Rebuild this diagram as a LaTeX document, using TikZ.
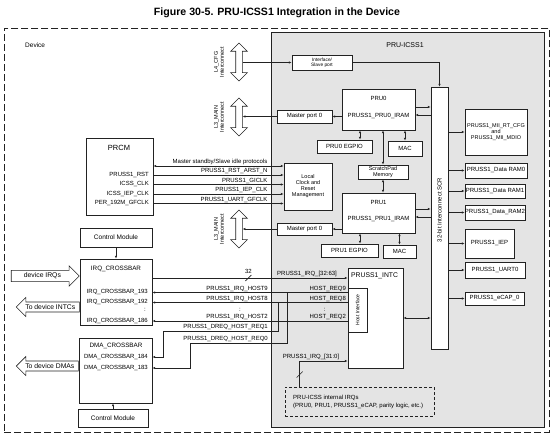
\documentclass[tikz,border=0pt]{standalone}
\usepackage{fontspec}
\setmainfont{Liberation Sans}
\usetikzlibrary{arrows.meta,shapes.arrows,calc}
\definecolor{bggray}{HTML}{E4E4E4}
\definecolor{ln}{HTML}{222222}
\begin{document}
\begin{tikzpicture}[x=1pt,y=-1pt,
  fs/.style={font=\fontsize{6}{6.6}\selectfont},
  box/.style={draw=ln, line width=0.75pt, fill=white, inner sep=0pt, align=center, fs},
  lbl/.style={fs, inner sep=0pt},
  sig/.style={line width=0.6pt, draw=ln},
  arr/.style={sig, -{Latex[length=2.8pt,width=2.4pt]}},
  darr/.style={sig, {Latex[length=2.8pt,width=2.4pt]}-{Latex[length=2.8pt,width=2.4pt]}},
  varrow/.style={draw=ln, fill=white, line width=0.6pt, double arrow, rotate=90,
     minimum height=38pt, inner sep=3pt, double arrow head extend=5pt},
  harrow/.style={draw=ln, fill=white, line width=0.6pt, single arrow,
     font=\fontsize{6.8}{7}\selectfont, inner sep=2.2pt, single arrow head extend=4.5pt},
]
\useasboundingbox (0,0) rectangle (554,438);
\node[font=\bfseries\fontsize{10.6}{12}\selectfont, inner sep=0pt] (title) at (277,13) {Figure 30-5. PRU-ICSS1 Integration in the Device};
\node[draw=ln, line width=0.7pt, dash pattern=on 7pt off 3pt, minimum width=545pt, minimum height=404pt, anchor=north west, inner sep=0pt] (device) at (4,28) {};
\node[lbl, font=\fontsize{6.5}{7}\selectfont, anchor=west] (devlbl) at (25,45) {Device};
\node[draw=ln, fill=bggray, line width=1.1pt, minimum width=273pt, minimum height=395pt, anchor=north west, inner sep=0pt] (pruss) at (271,32) {};
\node[lbl, font=\fontsize{7}{7}\selectfont] (prusslbl) at (405,45) {PRU-ICSS1};

% ---- PRU-ICSS1 internals
\node[box, font=\fontsize{4.8}{5.2}\selectfont, minimum width=60pt, minimum height=15pt] (ifp) at (322,62.5) {Interface/\\Slave port};
\node[box, minimum width=17pt, minimum height=262pt] (scr) at (439.5,218) {};
\node[lbl, rotate=90] (scrlbl) at (439.5,210) {32-bit Interconnect SCR};

\node[box, minimum width=73pt, minimum height=41pt] (pru0) at (378.5,109.5) {};
\node[lbl] (pru0t) at (378.5,98) {PRU0};
\node[lbl] (pru0i) at (378.5,116) {PRUSS1\_PRU0\_IRAM};
\node[box, minimum width=55pt, minimum height=13pt] (mp0) at (304.5,116.5) {Master port 0};
\node[box, minimum width=55pt, minimum height=13pt] (egp0) at (344.5,146.5) {PRU0 EGPIO};
\node[box, minimum width=34pt, minimum height=15pt] (mac0) at (405,148.5) {MAC};
\node[box, font=\fontsize{5.5}{6}\selectfont, minimum width=50pt, minimum height=14pt] (sp) at (383,172) {ScratchPad\\Memory};

\node[box, minimum width=73pt, minimum height=40pt] (pru1) at (378.5,213) {};
\node[lbl] (pru1t) at (378.5,202) {PRU1};
\node[lbl] (pru1i) at (378.5,219) {PRUSS1\_PRU1\_IRAM};
\node[box, minimum width=55pt, minimum height=12pt] (mp1) at (304.5,229) {Master port 0};
\node[box, minimum width=57pt, minimum height=13pt] (egp1) at (349.5,250.5) {PRU1 EGPIO};
\node[box, minimum width=33pt, minimum height=13pt] (mac1) at (399.5,251.5) {MAC};

\node[box, font=\fontsize{5.5}{6}\selectfont, minimum width=48pt, minimum height=47pt] (local) at (308,186.5) {Local\\Clock and\\Reset\\Management};

\node[box, font=\fontsize{5.5}{6}\selectfont, minimum width=62pt, minimum height=46pt] (mii) at (496,132) {PRUSS1\_MII\_RT\_CFG\\and\\PRUSS1\_MII\_MDIO};
\node[box, minimum width=62pt, minimum height=15pt] (ram0) at (496,170.5) {PRUSS1\_Data RAM0};
\node[box, minimum width=60pt, minimum height=14pt] (ram1) at (495,191) {PRUSS1\_Data RAM1};
\node[box, minimum width=60pt, minimum height=15pt] (ram2) at (495,212.5) {PRUSS1\_Data\_RAM2};
\node[box, minimum width=49pt, minimum height=29pt] (iep) at (489.5,243.5) {PRUSS1\_IEP};
\node[box, minimum width=60pt, minimum height=16pt] (uart) at (495,270) {PRUSS1\_UART0};
\node[box, minimum width=59pt, minimum height=13pt] (ecap) at (494.5,298.5) {PRUSS1\_eCAP\_0};

\node[box, minimum width=55pt, minimum height=100pt] (intc) at (375.5,318) {};
\node[lbl, font=\fontsize{6.8}{7}\selectfont, anchor=west] (intclbl) at (351,276) {PRUSS1\_INTC};
\node[box, minimum width=19pt, minimum height=44pt] (hostif) at (357.5,310) {};
\node[lbl, rotate=90, font=\fontsize{5}{5}\selectfont] (hostlbl) at (357.5,310) {Host Interface};

\node[draw=ln, line width=0.7pt, dash pattern=on 3pt off 2pt, minimum width=149pt, minimum height=29pt, inner sep=0pt] (internal) at (359.5,401.5) {};
\node[lbl, align=left, anchor=west, font=\fontsize{6}{8}\selectfont] (intlbl) at (293,401.5) {PRU-ICSS internal IRQs\\(PRU0, PRU1, PRUSS1\_eCAP, parity logic, etc.)};

% ---- left side
\node[box, minimum width=67pt, minimum height=77pt] (prcm) at (119.5,176.5) {};
\node[lbl, font=\fontsize{7.5}{8}\selectfont] (prcmt) at (119,148) {PRCM};
\node[lbl, anchor=east] (prst) at (149,175) {PRUSS1\_RST};
\node[lbl, anchor=east] (pick) at (149,184.5) {ICSS\_CLK};
\node[lbl, anchor=east] (piep) at (149,194) {ICSS\_IEP\_CLK};
\node[lbl, anchor=east] (pper) at (149,203.5) {PER\_192M\_GFCLK};

\node[box, font=\fontsize{6.5}{7}\selectfont, minimum width=72pt, minimum height=19pt] (cm1) at (116,237.5) {Control Module};
\node[box, minimum width=72pt, minimum height=66pt] (irq) at (116,292) {};
\node[lbl, font=\fontsize{6.3}{7}\selectfont] (irqt) at (116,269) {IRQ\_CROSSBAR};
\node[lbl, anchor=east] (c193) at (148,292.5) {IRQ\_CROSSBAR\_193};
\node[lbl, anchor=east] (c192) at (148,302.5) {IRQ\_CROSSBAR\_192};
\node[lbl] (ccol) at (145,310) {:};
\node[lbl, anchor=east] (c186) at (148,321) {IRQ\_CROSSBAR\_186};

\node[box, minimum width=73pt, minimum height=65pt] (dma) at (115.5,370.5) {};
\node[lbl, font=\fontsize{6.3}{7}\selectfont] (dmat) at (116,346) {DMA\_CROSSBAR};
\node[lbl, anchor=east] (d184) at (148,357) {DMA\_CROSSBAR\_184};
\node[lbl, anchor=east] (d183) at (148,368) {DMA\_CROSSBAR\_183};
\node[box, font=\fontsize{6.5}{7}\selectfont, minimum width=70pt, minimum height=18pt] (cm2) at (113,418) {Control Module};

% block arrows
\node[varrow] (l4) at (239,62) {};
\node[lbl, rotate=90, align=center, font=\fontsize{5.5}{6}\selectfont] (l4t) at (219,62) {L4\_CFG\\Interconnect};
\node[varrow] (l3a) at (239,117) {};
\node[lbl, rotate=90, align=center, font=\fontsize{5.5}{6}\selectfont] (l3at) at (219,117) {L3\_MAIN\\Interconnect};
\node[varrow] (l3b) at (239,229) {};
\node[lbl, rotate=90, align=center, font=\fontsize{5.5}{6}\selectfont] (l3bt) at (219,229) {L3\_MAIN\\Interconnect};

\node[harrow, anchor=tip, minimum height=68pt] (dirq) at ($(irq.west)+(0,-16)$) {device IRQs};
\node[harrow, shape border rotate=180, anchor=tail, minimum height=63pt] (dint) at ($(irq.west)+(0,15)$) {To device INTCs};
\node[harrow, shape border rotate=180, anchor=tail, minimum height=62pt] (ddma) at ($(dma.west)+(0,-4.5)$) {To device DMAs};

% ---- connectors inside PRU-ICSS
\draw[arr] (l4.south |- ifp.west) -- (ifp.west);
\draw[arr] (ifp.east) -| (scr.north);

\draw[arr] ($(pru0.east)+(0,-2.5)$) -- ($(pru0.east -| scr.west)+(0,-2.5)$);
\draw[arr] ($(pru0.east -| scr.west)+(0,5.5)$) -- ($(pru0.east)+(0,5.5)$);
\draw[arr] (pru0.west |- mp0.east) -- (mp0.east);
\draw[arr] (mp0.west) -- (mp0.west -| l3a.south);
\coordinate (e0) at ($(egp0.north)+(15.5,0)$);
\draw[darr] (e0 |- pru0.south) -- (e0);
\draw[darr] (mac0.north |- pru0.south) -- (mac0.north);
\draw[darr] (sp.north |- pru0.south) -- (sp.north);
\draw[darr] (sp.south) -- (sp.south |- pru1.north);

\draw[arr] ($(pru1.east)+(0,-4)$) -- ($(pru1.east -| scr.west)+(0,-4)$);
\draw[arr] ($(pru1.east -| scr.west)+(0,4)$) -- ($(pru1.east)+(0,4)$);
\draw[arr] (pru1.west |- mp1.east) -- (mp1.east);
\draw[arr] (mp1.west) -- (mp1.west -| l3b.south);
\coordinate (e1) at ($(egp1.north)+(10.5,0)$);
\draw[darr] (e1 |- pru1.south) -- (e1);
\draw[darr] (mac1.north |- pru1.south) -- (mac1.north);

\foreach \n in {mii,ram0,ram1,ram2,iep,uart,ecap} \draw[arr] (scr.east |- \n.west) -- (\n.west);
\draw[darr] (intc.east) -- (intc.east -| scr.west);

% ---- PRCM signals
\coordinate (s0) at ($(prcm.east)+(0,-10.5)$);
\draw[darr] (s0) -- (s0 -| local.west);
\node[lbl, anchor=south east] (s0l) at ($(s0 -| local.west)+(-16,-0.8)$) {Master standby/Slave idle protocols};
\draw[arr] (prst.east -| prcm.east) -- (prst.east -| local.west);
\node[lbl, anchor=south east] (s1l) at ($(prst.east -| local.west)+(-16,-0.8)$) {PRUSS1\_RST\_ARST\_N};
\draw[arr] (pick.east -| prcm.east) -- (pick.east -| local.west);
\node[lbl, anchor=south east] (s2l) at ($(pick.east -| local.west)+(-16,-0.8)$) {PRUSS1\_GICLK};
\draw[arr] (piep.east -| prcm.east) -- (piep.east -| local.west);
\node[lbl, anchor=south east] (s3l) at ($(piep.east -| local.west)+(-16,-0.8)$) {PRUSS1\_IEP\_CLK};
\draw[arr] (pper.east -| prcm.east) -- (pper.east -| local.west);
\node[lbl, anchor=south east] (s4l) at ($(pper.east -| local.west)+(-16,-0.8)$) {PRUSS1\_UART\_GFCLK};

% ---- crossbars
\draw[arr] (cm1.south) -- (irq.north);
\draw[arr] (cm2.north) -- (cm2.north |- dma.south);

\coordinate (q0) at ($(irq.east)+(0,-14)$);
\draw[arr] (q0) -- (q0 -| intc.west);
\draw[sig] ($(q0)+(93,3)$) -- ($(q0)+(99,-3)$);
\node[lbl] (q32) at ($(q0)+(96,-6.5)$) {32};
\node[lbl, anchor=south west] (q0l) at ($(q0 -| pruss.west)+(6,-1)$) {PRUSS1\_IRQ\_[32:63]};

\coordinate (h9) at (hostif.west |- c193.east);
\coordinate (h8) at (hostif.west |- c192.east);
\coordinate (h2) at (hostif.west |- c186.east);
\draw[arr] (h9) -- (h9 -| irq.east);
\draw[arr] (h8) -- (h8 -| irq.east);
\draw[arr] (h2) -- (h2 -| irq.east);
\node[lbl, anchor=south east] (h9l) at ($(h9)+(-1.5,-0.8)$) {HOST\_REQ9};
\node[lbl, anchor=south east] (h8l) at ($(h8)+(-1.5,-0.8)$) {HOST\_REQ8};
\node[lbl] (hcol) at ($(h8)+(-23,7.5)$) {:};
\node[lbl, anchor=south east] (h2l) at ($(h2)+(-1.5,-0.8)$) {HOST\_REQ2};
\node[lbl, anchor=south east] (p9l) at ($(h9 -| pruss.west)+(-3,-0.8)$) {PRUSS1\_IRQ\_HOST9};
\node[lbl, anchor=south east] (p8l) at ($(h8 -| pruss.west)+(-3,-0.8)$) {PRUSS1\_IRQ\_HOST8};
\node[lbl] (pcol) at ($(h8 -| pruss.west)+(-31,7.5)$) {:};
\node[lbl, anchor=south east] (p2l) at ($(h2 -| pruss.west)+(-3,-0.8)$) {PRUSS1\_IRQ\_HOST2};

\coordinate (v9) at ($(h9 -| pruss.west)+(16,0)$);
\coordinate (v8) at ($(h8 -| pruss.west)+(7,0)$);
\coordinate (r0) at ($(d183.east)+(42,-25)$);
\coordinate (r1) at ($(d184.east)+(15,-26)$);
\draw[arr] (v9) |- (r0) |- (dma.east |- d183.east);
\draw[arr] (v8) |- (r1) |- (dma.east |- d184.east);
\node[lbl, anchor=south east] (r1l) at ($(r1 -| pruss.west)+(-3,-0.8)$) {PRUSS1\_DREQ\_HOST\_REQ1};
\node[lbl, anchor=south east] (r0l) at ($(r0 -| pruss.west)+(-3,-0.8)$) {PRUSS1\_DREQ\_HOST\_REQ0};

% ---- internal IRQs
\coordinate (iq) at ($(internal.north west)+(15,0)$);
\draw[arr] (iq) |- ($(intc.west)+(0,43)$);
\draw[sig] ($(iq)+(-3,-9)$) -- ($(iq)+(3,-15)$);
\node[lbl, anchor=south west] (iql) at ($(iq)+(-17,-26.8)$) {PRUSS1\_IRQ\_[31:0]};
\end{tikzpicture}
\end{document}
